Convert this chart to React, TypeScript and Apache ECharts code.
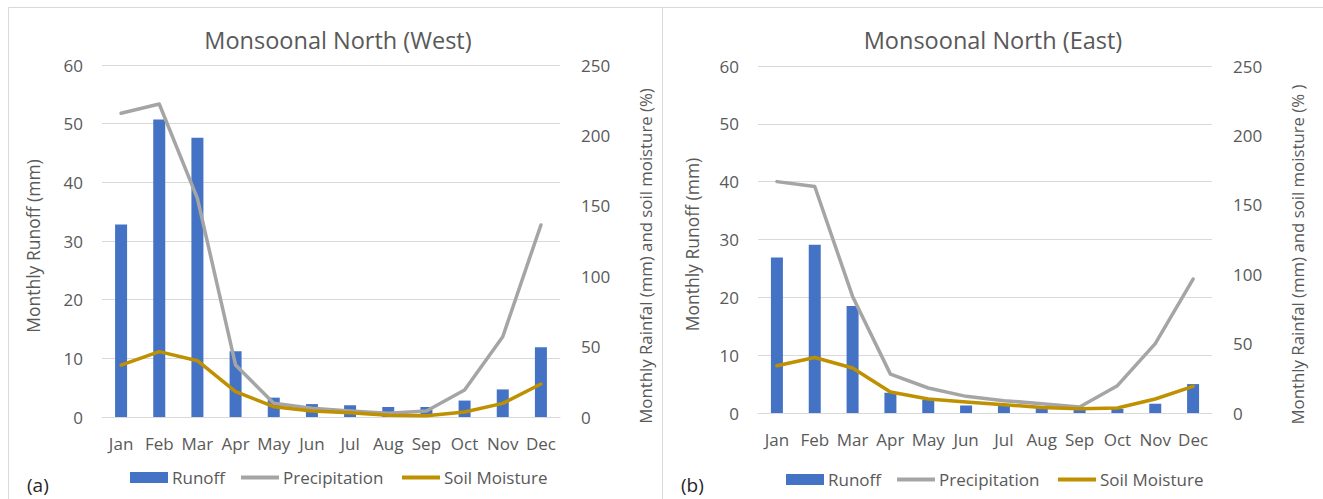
import React, { useEffect, useRef } from "react";
import * as echarts from "echarts";

const months = ["Jan", "Feb", "Mar", "Apr", "May", "Jun", "Jul", "Aug", "Sep", "Oct", "Nov", "Dec"];
const westRunoff = [32.8, 50.7, 47.6, 11.2, 3.3, 2.2, 2.0, 1.7, 1.7, 2.8, 4.7, 11.9];
const westPrecip = [215.7, 222.3, 155.3, 36.9, 9.7, 6.2, 4.3, 2.6, 4.3, 19.2, 57, 136.4];
const westSoil = [36.9, 46.4, 40, 18, 7.3, 4.3, 3.1, 1.2, 0.9, 3.5, 9.7, 23.4];
const eastRunoff = [26.9, 29.1, 18.5, 3.5, 2.3, 1.3, 1.3, 0.9, 0.6, 0.7, 1.6, 5.0];
const eastPrecip = [166.7, 163.2, 84, 28, 18, 12, 8.9, 6.7, 4.3, 19.7, 50, 96.5];
const eastSoil = [34, 40, 32.4, 15.1, 10.1, 7.9, 6, 4, 3.1, 3.6, 10.1, 19.2];
const titles = ["Monsoonal North (West)", "Monsoonal North (East)"];
const leftAxisName = "Monthly Runoff (mm)";
const rightAxisNames = ["Monthly Rainfal (mm) and soil moisture (%)", "Monthly Rainfal (mm) and soil moisture (% )"];
const panelTags = ["(a)", "(b)"];
const seriesNames = ["Runoff", "Precipitation", "Soil Moisture"];

const FONT = '"Open Sans", "DejaVu Sans", sans-serif';
const TXT = "#595959";
const GRID = "#D9D9D9";
const BLUE = "#4472C4";
const GRAY = "#A5A5A5";
const GOLD = "#BF9000";

export default function App() {
  const ref = useRef<HTMLDivElement>(null);
  useEffect(() => {
    if (!ref.current) return;
    const chart = echarts.init(ref.current, undefined, { renderer: "svg" });

    const panels = [
      { grid: { left: 102, right: 763, top: 65, bottom: 82 }, runoff: westRunoff, precip: westPrecip, soil: westSoil, titleX: 338, tagX: 27, legendX: [130, 241, 402], legendY: 469, leftGap: 60 },
      { grid: { left: 758, right: 111, top: 66, bottom: 86 }, runoff: eastRunoff, precip: eastPrecip, soil: eastSoil, titleX: 993, tagX: 681, legendX: [786, 897, 1058], legendY: 471, leftGap: 57 },
    ];

    const grids: any[] = [];
    const xAxes: any[] = [];
    const yAxes: any[] = [];
    const series: any[] = [];
    const legends: any[] = [];
    const graphics: any[] = [
      { type: "rect", shape: { x: 8.5, y: 7.5, width: 654, height: 600 }, style: { fill: "none", stroke: GRID, lineWidth: 1 } },
      { type: "rect", shape: { x: 662.5, y: 7.5, width: 700, height: 600 }, style: { fill: "none", stroke: GRID, lineWidth: 1 } },
    ];

    panels.forEach((p, i) => {
      grids.push(p.grid);
      xAxes.push({
        type: "category",
        gridIndex: i,
        data: months,
        axisLine: { lineStyle: { color: GRID, width: 1 } },
        axisTick: { show: false },
        axisLabel: { interval: 0, color: TXT, fontSize: 17, fontFamily: FONT, margin: 18 },
      });
      yAxes.push({
        type: "value",
        gridIndex: i,
        min: 0,
        max: 60,
        interval: 10,
        position: "left",
        name: leftAxisName,
        nameLocation: "middle",
        nameRotate: 90,
        nameGap: p.leftGap,
        nameTextStyle: { color: TXT, fontSize: 17.5, fontFamily: FONT, padding: [0, 10, 0, 0] },
        axisLine: { show: false },
        axisTick: { show: false },
        axisLabel: { color: TXT, fontSize: 17, fontFamily: FONT, margin: 19 },
        splitLine: { lineStyle: { color: GRID, width: 1 } },
      });
      yAxes.push({
        type: "value",
        gridIndex: i,
        min: 0,
        max: 250,
        interval: 50,
        position: "right",
        name: rightAxisNames[i],
        nameLocation: "middle",
        nameRotate: 90,
        nameGap: 77,
        nameTextStyle: { color: TXT, fontSize: 16.8, fontFamily: FONT, padding: [0, 30, 0, 0] },
        axisLine: { show: false },
        axisTick: { show: false },
        axisLabel: { color: TXT, fontSize: 17, fontFamily: FONT, margin: 21 },
        splitLine: { show: false },
      });
      series.push({
        type: "bar",
        name: seriesNames[0],
        xAxisIndex: i,
        yAxisIndex: i * 2,
        data: p.runoff,
        barWidth: 12,
        itemStyle: { color: BLUE },
        z: 2,
      });
      series.push({
        type: "line",
        name: seriesNames[1],
        xAxisIndex: i,
        yAxisIndex: i * 2 + 1,
        data: p.precip,
        symbol: "none",
        lineStyle: { color: GRAY, width: 3.5, join: "round", cap: "round" },
        itemStyle: { color: GRAY },
        z: 3,
      });
      series.push({
        type: "line",
        name: seriesNames[2],
        xAxisIndex: i,
        yAxisIndex: i * 2 + 1,
        data: p.soil,
        symbol: "none",
        lineStyle: { color: GOLD, width: 3.5, join: "round", cap: "round" },
        itemStyle: { color: GOLD },
        z: 4,
      });
      seriesNames.forEach((n, k) => {
        const isBar = k === 0;
        legends.push({
          data: [n],
          left: p.legendX[k],
          top: p.legendY,
          padding: 0,
          itemWidth: 38,
          itemHeight: isBar ? 11 : 4,
          icon: "rect",
          selectedMode: false,
          itemStyle: { borderWidth: 0 },
          lineStyle: { width: 0 },
          textStyle: { color: TXT, fontSize: 17, fontFamily: FONT, padding: [0, 0, 0, -1] },
        });
      });
      graphics.push({
        type: "text",
        x: p.titleX,
        y: 40,
        style: { text: titles[i], fontSize: 23.5, fontFamily: FONT, fill: TXT, align: "center", verticalAlign: "middle" },
      });
      graphics.push({
        type: "text",
        x: p.tagX,
        y: 485,
        style: { text: panelTags[i], fontSize: 19, fontFamily: FONT, fill: "#262626", align: "left", verticalAlign: "middle" },
      });
    });

    chart.setOption({
      animation: false,
      backgroundColor: "#FFFFFF",
      grid: grids,
      xAxis: xAxes,
      yAxis: yAxes,
      series,
      legend: legends,
      graphic: graphics,
    });
    return () => chart.dispose();
  }, []);

  return <div ref={ref} style={{ position: "absolute", left: 0, top: 0, width: 1323, height: 499 }} />;
}
